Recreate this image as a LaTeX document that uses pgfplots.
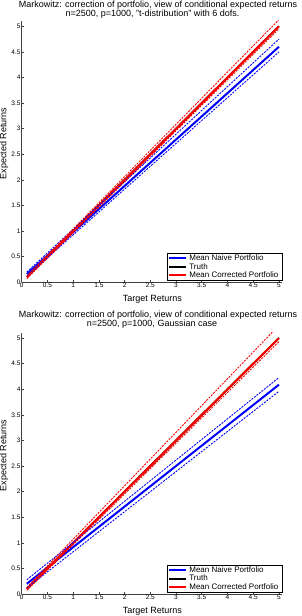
\documentclass[border=0pt]{standalone}
\usepackage{fontspec}
\setmainfont{Liberation Sans}
\usepackage{pgfplots}
\pgfplotsset{compat=1.18}
\pgfplotstableread{
x naive naiveup naivelo truth corr corrup corrlo
0.1 0.16 0.20 0.12 0.1 0.10 0.12 0.07
5.0 4.60 4.75 4.50 5.0 5.00 5.13 4.95
}\tdist
\pgfplotstableread{
x naive naiveup naivelo truth corr corrup corrlo
0.1 0.20 0.28 0.12 0.1 0.10 0.13 0.07
5.0 4.09 4.23 3.96 5.0 5.00 5.25 4.93
}\gauss
\definecolor{mblue}{rgb}{0,0,1}
\definecolor{mred}{rgb}{1,0,0}
\pgfplotsset{
 mystyle/.style={
  scale only axis, width=260.3pt, height=261.5pt,
  xmin=0, xmax=5.06, ymin=0, ymax=5.11,
  axis x line*=bottom, axis y line*=left,
  axis line style={-, draw=black!75, line width=0.6pt},
  tick align=inside, major tick length=2pt,
  every tick/.style={black!75, line width=0.5pt},
  xtick={0,0.5,1,1.5,2,2.5,3,3.5,4,4.5,5},
  ytick={0,0.5,1,1.5,2,2.5,3,3.5,4,4.5,5},
  tick label style={font=\fontsize{6.5}{7}\selectfont, text=black},
  /pgf/number format/assume math mode=true,
  xticklabel style={inner sep=1pt},
  yticklabel style={inner sep=1pt},
  xlabel={Target Returns}, ylabel={Expected Returns},
  label style={font=\fontsize{9}{10}\selectfont},
  xlabel style={at={(axis description cs:0.502,-0.067)}, anchor=center},
  ylabel style={at={(axis description cs:-0.068,0.53)}, anchor=center},
  legend style={at={(axis description cs:1,0.007)}, anchor=south east,
    font=\fontsize{8}{8}\selectfont, draw=black,
    inner xsep=1.5pt, inner ysep=0.5pt, row sep=0pt, legend cell align=left,
    nodes={inner ysep=0.6pt}},
  legend image code/.code={\draw[#1] (0pt,0pt) -- (17pt,0pt);},
  solidline/.style={line width=2pt},
  dashline/.style={line width=0.9pt, dash pattern=on 2pt off 1.2pt},
 }
}
\begin{document}
\begin{tikzpicture}
\path[use as bounding box] (0,0) rectangle (302pt,-616pt);
\begin{axis}[mystyle, at={(21.7pt,-282.2pt)}, anchor=south west]
\addlegendimage{draw=mblue, line width=1.9pt}
\addlegendentry{Mean Naive Portfolio}
\addlegendimage{draw=black, line width=1.9pt}
\addlegendentry{Truth}
\addlegendimage{draw=mred, line width=1.9pt}
\addlegendentry{Mean Corrected Portfolio}
\addplot[mblue, solidline, forget plot] table[x=x, y=naive] {\tdist};
\addplot[black, solidline, forget plot] table[x=x, y=truth] {\tdist};
\addplot[mred, solidline, forget plot] table[x=x, y=corr] {\tdist};
\addplot[mblue, dashline, forget plot] table[x=x, y=naiveup] {\tdist};
\addplot[mblue, dashline, forget plot] table[x=x, y=naivelo] {\tdist};
\addplot[mred, dashline, forget plot] table[x=x, y=corrup] {\tdist};
\addplot[mred, dashline, forget plot] table[x=x, y=corrlo] {\tdist};
\end{axis}
\begin{axis}[mystyle, at={(21.7pt,-594pt)}, anchor=south west]
\addlegendimage{draw=mblue, line width=1.9pt}
\addlegendentry{Mean Naive Portfolio}
\addlegendimage{draw=black, line width=1.9pt}
\addlegendentry{Truth}
\addlegendimage{draw=mred, line width=1.9pt}
\addlegendentry{Mean Corrected Portfolio}
\addplot[mblue, solidline, forget plot] table[x=x, y=naive] {\gauss};
\addplot[black, solidline, forget plot] table[x=x, y=truth] {\gauss};
\addplot[mred, solidline, forget plot] table[x=x, y=corr] {\gauss};
\addplot[mblue, dashline, forget plot] table[x=x, y=naiveup] {\gauss};
\addplot[mblue, dashline, forget plot] table[x=x, y=naivelo] {\gauss};
\addplot[mred, dashline, forget plot] table[x=x, y=corrup] {\gauss};
\addplot[mred, dashline, forget plot] table[x=x, y=corrlo] {\gauss};
\end{axis}
\begin{scope}[every node/.style={font=\fontsize{9}{9}\selectfont, anchor=base, inner sep=0pt}]
\node at (158pt,-7.2pt) {Markowitz: correction of portfolio, view of conditional expected returns};
\node at (152.5pt,-16.2pt) {n=2500, p=1000, "t-distribution" with 6 dofs.};
\node at (158pt,-317.5pt) {Markowitz: correction of portfolio, view of conditional expected returns};
\node at (152pt,-326.5pt) {n=2500, p=1000, Gaussian case};
\end{scope}
\end{tikzpicture}
\end{document}
